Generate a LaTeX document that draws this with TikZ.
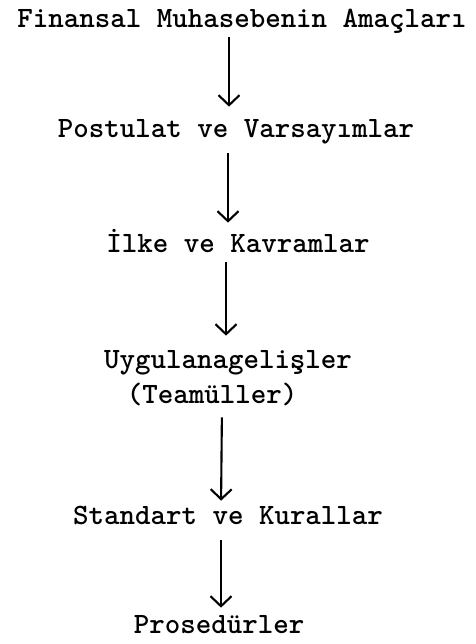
\documentclass[tikz,border=0pt]{standalone}
\usepackage{tikz}
\usetikzlibrary{arrows.meta}

\tikzset{
  yazi/.style={anchor=base, inner sep=0pt, text height=0.32cm, text depth=0pt,
    font=\ttfamily\bfseries\fontsize{16.8}{20}\selectfont},
  ok/.style={line width=1.2pt, -{Straight Barb[length=0.2cm,width=0.42cm]}}
}

\begin{document}
\begin{tikzpicture}
  \useasboundingbox (0,0) rectangle (9.5,12.88);

  % basliklar
  \node[yazi] (amac) at (4.84,12.32) {Finansal Muhasebenin Amaçları};
  \node[yazi] (post) at (4.72,10.12) {Postulat ve Varsayımlar};
  \node[yazi] (ilke) at (4.76,7.82) {İlke ve Kavramlar};
  \node[yazi] (uyg)  at (4.56,5.50) {Uygulanagelişler};
  \node[yazi] (team) at (4.24,4.80) {(Teamüller)};
  \node[yazi] (stan) at (4.56,2.38) {Standart ve Kurallar};
  \node[yazi] (pros) at (4.38,0.22) {Prosedürler};

  % oklar
  \draw[ok, shorten <=0.18cm, shorten >=0.30cm] (4.58,0 |- amac.south) -- (4.58,0 |- post.north);
  \draw[ok, shorten <=0.30cm, shorten >=0.28cm] (4.56,0 |- post.south) -- (4.56,0 |- ilke.north);
  \draw[ok, shorten <=0.18cm, shorten >=0.34cm] (4.52,0 |- ilke.south) -- (4.52,0 |- uyg.north);
  \draw[ok, shorten <=0.26cm, shorten >=0.16cm] (4.44,0 |- team.south) -- (4.42,0 |- stan.north);
  \draw[ok, shorten <=0.30cm, shorten >=0.18cm] (4.42,0 |- stan.south) -- (4.42,0 |- pros.north);
\end{tikzpicture}
\end{document}
